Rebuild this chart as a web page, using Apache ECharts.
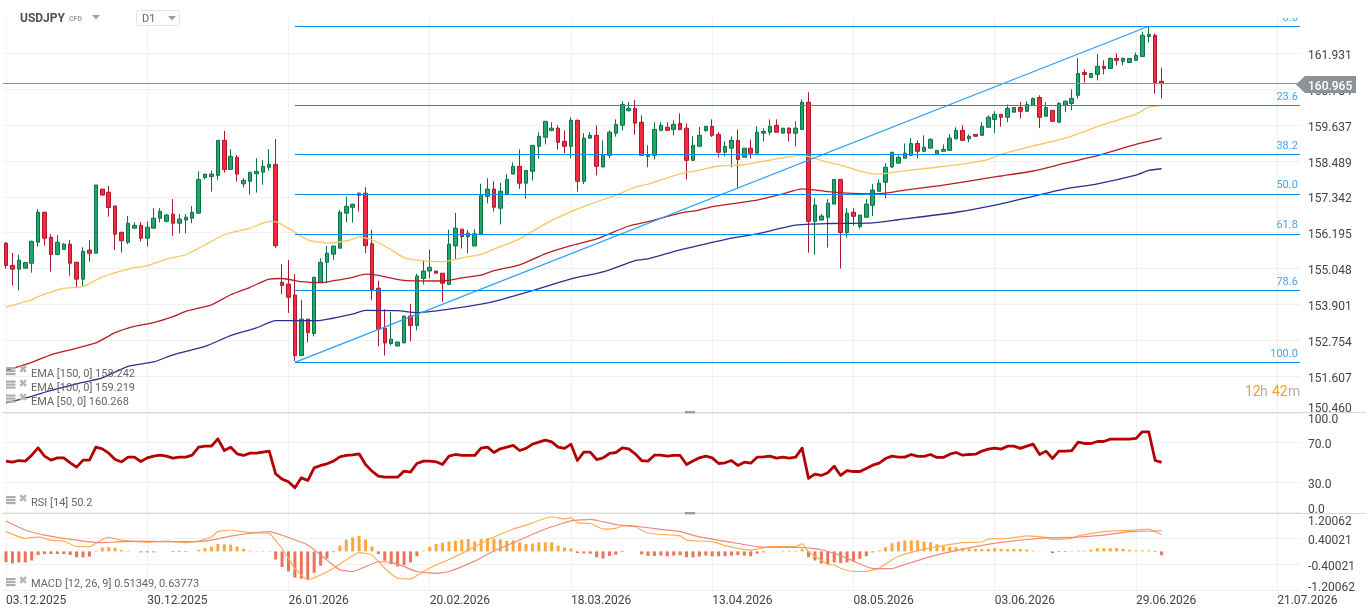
<!DOCTYPE html>
<html>
<head>
<meta charset="utf-8">
<style>html,body{margin:0;padding:0;background:#fff}#chart{width:1368px;height:616px}</style>
<script src="https://cdn.jsdelivr.net/npm/echarts@6/dist/echarts.min.js"></script>
</head>
<body>
<div id="chart"></div>
<script>
// USDJPY daily: candles with EMAs and Fibonacci retracement, RSI and MACD panes.
const tickDates = ['03.12.2025','30.12.2025','26.01.2026','20.02.2026','18.03.2026','13.04.2026','08.05.2026','03.06.2026','29.06.2026','21.07.2026'];
const priceTicks = [150.460,151.607,152.754,153.901,155.048,156.195,157.342,158.489,159.637,160.784,161.931];
const rsiTicks = [0,30,70,100];
const macdTicks = [-1.20062,-0.40021,0.40021,1.20062];
const lastPrice = 160.965;

// open, close, low, high
const candles = [
[155.86,155.15,155.04,155.90],[155.15,155.03,154.51,155.55],[155.03,155.32,154.35,155.49],[155.06,155.24,155.06,155.24],
[155.22,155.92,154.92,155.94],[155.89,156.85,155.75,156.95],[156.85,156.02,155.78,156.86],[156.05,155.50,154.95,156.15],
[155.50,155.89,155.47,156.12],[155.66,155.83,155.66,155.86],[155.83,155.22,154.82,155.96],[155.25,154.71,154.42,155.26],
[154.71,155.60,154.50,155.73],[155.64,155.54,155.27,155.96],[155.54,157.72,155.54,157.72],[157.59,157.40,157.38,157.59],
[157.49,157.00,156.71,157.69],[157.05,156.15,155.65,157.05],[156.21,155.94,155.56,156.22],[155.89,156.50,155.83,156.73],
[156.34,156.43,156.34,156.53],[156.43,156.02,155.92,156.53],[156.02,156.37,155.75,156.56],[156.34,156.66,156.34,156.98],
[156.66,156.88,156.53,156.98],[156.56,156.76,156.53,156.80],[156.79,156.50,156.10,157.27],[156.50,156.63,156.18,156.79],
[156.60,156.69,156.18,156.79],[156.66,156.85,156.50,157.05],[156.82,157.90,156.82,158.16],[157.96,158.07,157.91,158.07],
[157.99,158.07,157.51,158.19],[158.03,159.15,157.88,159.15],[159.15,158.22,158.12,159.45],[158.22,158.64,158.22,158.87],
[158.61,158.07,157.83,158.68],[157.76,157.87,157.64,157.94],[157.84,158.13,157.41,158.13],[158.08,158.16,157.48,158.58],
[158.13,158.32,157.73,158.52],[158.29,158.38,158.18,158.87],[158.38,155.78,155.70,159.19],[154.61,154.51,154.23,155.19],
[154.55,154.13,153.63,155.32],[154.20,152.27,152.09,154.87],[152.27,153.43,152.27,154.05],[153.43,153.00,152.69,153.43],
[152.97,154.77,152.88,154.77],[154.61,155.25,154.61,155.38],[155.25,155.54,154.58,155.77],[155.51,155.77,155.32,155.77],
[155.70,156.85,155.70,156.92],[156.82,157.04,156.53,157.35],[157.01,157.11,156.52,157.11],[157.46,157.39,156.87,157.46],
[157.46,155.78,155.54,157.65],[155.84,154.37,154.05,156.29],[154.42,153.11,152.56,154.66],[153.14,152.67,152.27,153.75],
[152.65,152.79,152.59,153.66],[152.57,152.70,152.57,152.70],[152.67,153.53,152.67,153.53],[153.53,153.23,152.72,153.92],
[153.23,154.81,153.07,154.88],[154.73,154.97,154.54,155.32],[154.97,155.09,154.73,155.65],[154.97,154.90,154.90,154.97],
[154.90,154.58,153.99,154.90],[154.54,155.83,154.54,156.29],[155.77,156.34,155.35,156.83],[156.31,156.07,155.69,156.31],
[156.07,156.18,155.54,156.29],[155.77,156.16,155.77,156.31],[156.15,157.39,156.15,157.76],[157.36,157.59,157.14,157.94],
[157.59,157.01,156.87,157.84],[156.98,157.52,156.46,157.79],[157.43,157.90,157.39,158.07],[158.07,158.32,158.07,158.45],
[158.32,157.78,157.60,158.86],[157.78,158.19,157.29,158.19],[158.16,158.99,157.86,158.99],[158.96,159.28,158.57,159.41],
[159.25,159.76,159.02,159.76],[159.47,159.54,159.44,159.73],[159.54,159.09,158.86,159.63],[159.12,158.96,158.74,159.47],
[158.96,159.79,158.57,159.89],[159.79,157.84,157.51,159.82],[157.84,159.22,157.75,159.38],[159.22,159.31,159.22,159.41],
[159.31,158.32,158.03,159.63],[158.30,158.70,158.29,159.15],[158.67,159.41,158.58,159.47],[159.38,159.66,159.27,159.82],
[159.63,160.30,159.47,160.40],[160.10,160.17,160.07,160.37],[160.17,159.70,159.33,160.44],[159.73,158.67,158.67,159.95],
[158.64,158.67,158.29,158.99],[158.67,159.50,158.54,159.73],[159.47,159.63,159.44,159.73],[159.57,159.47,159.47,159.73],
[159.50,159.66,159.31,159.79],[159.69,159.50,159.47,160.01],[159.54,158.51,157.90,159.69],[158.51,158.99,158.51,159.28],
[158.96,159.31,158.96,159.58],[159.46,159.60,159.43,159.60],[159.60,159.31,159.26,159.82],[159.34,158.77,158.61,159.41],
[158.77,158.96,158.64,159.12],[158.90,159.15,158.29,159.28],[159.15,158.54,157.62,159.50],[158.61,158.90,158.61,158.90],
[158.90,158.74,158.57,159.18],[158.74,159.41,158.74,159.60],[159.38,159.44,159.12,159.54],[159.41,159.60,159.31,159.82],
[159.63,159.41,159.41,159.82],[159.38,159.54,159.38,159.54],[159.54,159.38,159.12,159.57],[159.38,159.54,158.95,159.76],
[159.50,160.37,159.50,160.46],[160.37,156.56,155.56,160.69],[156.56,157.08,155.49,157.30],[156.60,156.73,156.60,156.79],
[156.69,157.14,155.72,157.27],[157.11,157.90,157.11,157.90],[157.90,156.20,155.05,157.90],[156.20,156.82,156.04,156.98],
[156.85,156.72,156.42,156.98],[156.39,156.76,156.33,156.76],[156.69,157.11,156.69,157.27],[157.07,157.56,156.73,157.75],
[157.52,157.78,157.52,157.90],[157.81,158.29,157.30,158.42],[158.30,158.77,158.26,158.77],[158.42,158.61,158.42,158.67],
[158.58,158.74,158.58,159.05],[158.67,159.05,158.67,159.22],[159.05,158.80,158.58,159.15],[158.80,158.93,158.80,159.31],
[158.90,159.18,158.90,159.22],[158.70,158.83,158.70,158.83],[158.80,158.86,158.80,159.02],[158.83,159.22,158.83,159.34],
[159.20,159.47,159.18,159.57],[159.47,159.15,159.12,159.63],[159.20,159.28,159.09,159.34],[159.34,159.28,159.28,159.34],
[159.31,159.60,159.31,159.73],[159.57,159.89,159.57,159.95],[159.82,159.98,159.38,160.08],[159.98,159.89,159.59,159.98],
[159.89,160.17,159.73,160.30],[160.05,160.20,160.05,160.20],[160.20,160.08,159.85,160.37],[160.08,160.30,160.08,160.40],
[160.27,160.49,160.27,160.52],[160.52,159.89,159.54,160.59],[159.92,160.20,159.92,160.37],[160.11,159.76,159.76,160.11],
[159.73,160.33,159.73,160.37],[160.27,160.40,160.05,160.43],[160.33,160.49,160.11,160.78],[160.59,161.29,160.49,161.78],
[161.32,161.26,161.00,161.42],[161.16,161.29,161.16,161.29],[161.26,161.52,161.07,161.91],[161.52,161.45,161.26,161.71],
[161.45,161.77,161.45,161.80],[161.77,161.71,161.55,161.94],[161.68,161.77,161.55,161.80],[161.64,161.77,161.64,161.77],
[161.71,161.87,161.71,161.96],[161.83,162.51,161.83,162.63],[162.47,162.54,162.28,162.79],[162.51,161.00,160.65,162.57],
[161.04,160.965,160.49,161.48]
];

// Moving averages, sampled at the bars listed in each index array
const ema50Bars = [0,4,5,9,12,15,19,22,25,28,31,34,38,41,42,45,47,50,53,54,55,57,60,62,64,68,71,74,76,80,84,88,91,95,98,100,105,108,111,115,119,124,125,128,130,134,136,139,145,150,153,155,160,165,170,176,178,180];
const ema50 = [153.82,154.05,154.15,154.42,154.47,154.78,155.03,155.14,155.35,155.49,155.81,156.13,156.34,156.56,156.55,156.21,155.97,155.86,155.93,155.99,156.06,155.97,155.65,155.40,155.32,155.27,155.39,155.50,155.67,156.00,156.48,156.87,157.11,157.40,157.65,157.75,158.08,158.20,158.33,158.37,158.52,158.68,158.63,158.45,158.36,158.11,158.07,158.15,158.29,158.42,158.54,158.70,158.97,159.22,159.59,159.99,160.21,160.268];
const ema100Bars = [0,4,7,10,14,17,20,23,26,28,32,35,38,41,43,46,49,51,54,56,58,62,68,71,74,76,80,84,88,92,97,100,105,108,110,117,121,124,128,131,135,137,140,146,154,155,160,165,170,176,180];
const ema100 = [151.79,152.05,152.29,152.45,152.67,153.00,153.20,153.32,153.51,153.68,153.89,154.21,154.45,154.71,154.73,154.63,154.60,154.66,154.77,154.87,154.83,154.67,154.65,154.75,154.84,154.98,155.17,155.52,155.78,156.00,156.41,156.55,156.82,156.92,157.03,157.24,157.44,157.60,157.51,157.46,157.44,157.46,157.56,157.72,157.98,158.01,158.17,158.42,158.66,159.02,159.219];
const ema150Bars = [0,4,7,11,15,19,23,26,31,35,39,42,46,49,54,56,61,64,69,74,77,82,88,93,98,100,105,108,113,117,123,128,135,139,148,155,160,165,170,176,178,180];
const ema150 = [150.75,150.96,151.15,151.36,151.55,151.92,152.06,152.29,152.56,152.90,153.15,153.38,153.38,153.39,153.59,153.71,153.70,153.64,153.75,153.91,154.05,154.34,154.72,154.94,155.30,155.36,155.65,155.79,156.02,156.16,156.44,156.49,156.51,156.61,156.85,157.12,157.36,157.60,157.76,158.04,158.19,158.242];

// Fibonacci retracement drawn between the swing low and the swing high
const fibLabels = ['0.0','23.6','38.2','50.0','61.8','78.6','100.0'];
const fibPrices = [162.80,160.26,158.69,157.43,156.16,154.35,152.05];
const swingLowBar = 45;
const swingHighBar = 178;
const fibEndBar = 202;

const rsi = [51.4,50.3,52,51.4,57.4,64.8,56.4,52.4,54.7,54.7,49.7,45.3,52.4,52.4,65.5,63.8,59.4,53,50.7,55.4,55.4,51,54.7,56.4,57.4,56.4,54.4,55.4,55.4,57.4,65.5,66.5,66.5,73.9,62.1,65.5,58.8,57.1,59.4,59.4,60.5,61.5,38.6,33.2,30.5,24.4,34.5,31.8,44.6,47,48.7,51.4,55.7,57.1,57.8,58.8,48,41.3,36.2,35.2,35.2,35.2,41.3,40.2,49,51.4,51.4,50.7,48,56.4,58.1,57.1,57.1,57.1,64.5,65.5,60.1,63.8,65.5,67.2,62.1,64.2,68.5,70.5,72.6,70.9,65.5,64.2,68.5,52,60.5,60.5,53,54.7,59.1,60.1,64.8,63.8,58.8,52,51.4,57.4,57.4,56.4,57.1,57.1,48,51.4,54.7,56.4,54.7,49,49.7,52,47,50.3,49.3,55.4,55.7,56.4,54.4,55.4,54.4,55.4,64.5,33.9,38.2,36.9,39.6,46.3,36.9,41.9,40.9,40.9,44,47.3,49.3,54,56.4,55.4,55.4,58.1,56.1,56.1,58.1,55.1,55.1,58.4,60.1,57.4,58.1,58.4,61.5,63.5,64.5,63.5,66.5,66.5,64.2,66.5,68.5,58.1,61.5,54,61.5,61.5,62.1,70.5,69.2,69.2,71.2,71.2,73.6,73.6,73.6,73.6,74.3,81,81,52,50.2];

const macdBars = [0,3,5,7,9,11,13,15,16,18,20,22,25,28,30,32,33,35,38,41,43,45,47,49,51,53,55,57,59,61,63,65,67,69,72,75,79,81,85,87,88,89,91,93,95,96,98,100,105,106,110,112,116,119,123,124,125,128,129,130,132,134,136,138,139,143,146,149,152,153,156,159,162,163,166,167,171,175,178,180];
const macdLine = [0.61,0.40,0.45,0.35,0.32,0.15,0.15,0.37,0.43,0.35,0.31,0.28,0.32,0.27,0.32,0.45,0.61,0.66,0.58,0.55,0.09,-0.52,-0.88,-0.73,-0.52,-0.26,-0.04,-0.11,-0.52,-0.83,-0.85,-0.62,-0.42,-0.25,0.04,0.35,0.69,0.81,1.07,1.00,1.04,0.89,0.86,0.69,0.71,0.79,0.76,0.56,0.48,0.35,0.30,0.18,0.04,0.15,0.15,0.23,-0.01,-0.40,-0.42,-0.52,-0.62,-0.62,-0.52,-0.26,-0.15,0.07,0.18,0.27,0.29,0.38,0.40,0.48,0.43,0.37,0.40,0.48,0.61,0.65,0.69,0.51349];
const signalBars = [0,3,6,9,12,15,18,21,25,29,32,35,38,41,43,47,50,52,54,56,58,60,62,64,67,69,73,76,80,84,88,91,95,98,102,105,108,113,117,121,124,127,130,132,135,138,139,144,150,155,162,166,171,175,180];
const signalLine = [0.94,0.66,0.50,0.40,0.32,0.27,0.30,0.32,0.30,0.30,0.35,0.47,0.56,0.61,0.50,0.20,-0.27,-0.57,-0.62,-0.47,-0.32,-0.34,-0.47,-0.62,-0.68,-0.62,-0.30,0.01,0.35,0.69,0.94,0.99,0.83,0.78,0.68,0.61,0.45,0.28,0.15,0.12,0.12,0.05,-0.13,-0.30,-0.53,-0.53,-0.47,-0.16,0.11,0.28,0.42,0.43,0.50,0.61,0.63773];
const macdHist = [-0.33,-0.37,-0.34,-0.34,-0.28,-0.11,-0.08,-0.08,-0.08,-0.08,-0.11,-0.18,-0.18,-0.16,0.02,0.12,0.13,0.11,0.04,0.02,0,-0.03,-0.03,-0.03,0,0,-0.02,-0.02,-0.02,0,0.04,0.10,0.14,0.23,0.22,0.21,0.15,0.08,0.02,0.01,-0.01,-0.01,-0.25,-0.48,-0.62,-0.81,-0.84,-0.86,-0.66,-0.44,-0.22,-0.02,0.18,0.36,0.43,0.48,0.37,0.15,-0.08,-0.29,-0.39,-0.46,-0.43,-0.34,-0.15,0.02,0.14,0.23,0.27,0.31,0.33,0.36,0.38,0.31,0.38,0.41,0.39,0.37,0.33,0.34,0.28,0.23,0.24,0.28,0.28,0.28,0.18,0.12,0.09,-0.05,-0.06,-0.07,-0.18,-0.22,-0.14,-0.10,-0.02,0,0,-0.09,-0.14,-0.14,-0.13,-0.15,-0.13,-0.12,-0.18,-0.18,-0.16,-0.13,-0.15,-0.15,-0.15,-0.13,-0.11,-0.13,-0.15,-0.07,-0.03,0,0.01,0.02,0.02,0.02,0.08,-0.17,-0.28,-0.37,-0.40,-0.34,-0.36,-0.34,-0.31,-0.23,-0.15,-0.03,0.03,0.13,0.25,0.30,0.34,0.34,0.34,0.30,0.28,0.22,0.16,0.14,0.13,0.10,0.09,0.08,0.07,0.08,0.10,0.08,0.07,0.07,0.07,0.06,0.02,0.01,0,-0.05,-0.02,-0.02,-0.01,0.02,0.02,0.05,0.10,0.10,0.10,0.10,0.08,0.05,0.03,0.03,0.03,-0.02,-0.12];

const emaLegend = ['EMA [150, 0] 158.242','EMA [100, 0] 159.219','EMA [50, 0] 160.268'];
const rsiLegend = 'RSI [14] 50.2';
const macdLegend = 'MACD [12, 26, 9] 0.51349, 0.63773';

const FONT = 'Roboto';
const GRID_LINE = '#f1f1f1';
const AXIS_TEXT = '#444';
const UP = '#21a66c', UP_EDGE = '#0f7146', DOWN = '#f8283f', DOWN_EDGE = '#a81a2c';
const FIB_BLUE = '#0a8df0', FIB_TEXT = '#45a6f3';
const LEFT = 2.8, BAR_STEP = 6.42, BAR_SLOTS = 203;

const categories = Array.from({length: BAR_SLOTS}, (_, i) => i % 22 === 0 ? tickDates[i / 22] : 'bar' + i);
const pairUp = (bars, values) => bars.map((b, k) => [categories[b], values[k]]);

const grids = [
  {left: LEFT, top: 0, width: BAR_STEP * BAR_SLOTS, height: 412},
  {left: LEFT, top: 413, width: BAR_STEP * BAR_SLOTS, height: 99},
  {left: LEFT, top: 512.5, width: BAR_STEP * BAR_SLOTS, height: 77.8}
];
const xAxes = grids.map((g, idx) => ({
  type: 'category', gridIndex: idx, data: categories, boundaryGap: true,
  axisLine: {show: false}, axisTick: {show: false},
  splitLine: {show: true, interval: 21, alignWithLabel: true, lineStyle: {color: GRID_LINE, width: 1}},
  axisLabel: {show: idx === 2, interval: 21, align: 'left', margin: 5, color: AXIS_TEXT, fontFamily: FONT, fontSize: 12, hideOverlap: false}
}));
// Pane-edge tick labels sit inside the pane, so they are placed apart from the axis labels.
// A short line box on top-aligned text puts each label just under its grid line.
const yAxisBase = (idx, min, max, ticks, labelTicks, digits) => ({
  type: 'value', gridIndex: idx, position: 'right', min, max, scale: true,
  axisLine: {show: false},
  axisTick: {show: false, customValues: ticks},
  splitLine: {show: true, lineStyle: {color: GRID_LINE, width: 1}},
  axisLabel: {
    customValues: labelTicks, margin: 2, color: AXIS_TEXT, fontFamily: FONT, fontSize: 12, align: 'left',
    verticalAlign: 'top', lineHeight: 5,
    formatter: v => v.toFixed(digits)
  }
});
const yAxes = [
  yAxisBase(0, 150.46, 163.64, priceTicks, priceTicks.slice(1), 3),
  yAxisBase(1, 0, 100, rsiTicks, rsiTicks.slice(1, -1), 1),
  yAxisBase(2, -1.20062, 1.20062, macdTicks, macdTicks.slice(1, -1), 5)
];

const plainLine = (name, data, color, width, xi, yi, z, smooth) => ({
  name, type: 'line', data, xAxisIndex: xi, yAxisIndex: yi, showSymbol: false, symbol: 'none',
  connectNulls: true, z, silent: true, smooth: smooth || false,
  lineStyle: {color, width, join: 'round'}
});

const fibMarks = fibPrices.map((price, k) => [
  {coord: [categories[swingLowBar], price],
   lineStyle: {color: FIB_BLUE, width: 1, type: 'solid'},
   label: {show: true, position: 'insideEndTop', formatter: fibLabels[k], color: FIB_TEXT, fontFamily: FONT, fontSize: 11, distance: [5, 3]}},
  {coord: [categories[fibEndBar], price]}
]);
const trendMark = [
  {coord: [categories[swingLowBar], fibPrices[6]], lineStyle: {color: '#2e9ff6', width: 1.3, type: 'solid'}, label: {show: false}},
  {coord: [categories[swingHighBar], fibPrices[0]]}
];

const series = [
  {
    name: 'USDJPY', type: 'candlestick', data: candles, xAxisIndex: 0, yAxisIndex: 0, barWidth: 4, clip: false, z: 2,
    itemStyle: {color: UP, color0: DOWN, borderColor: UP_EDGE, borderColor0: DOWN_EDGE, borderWidth: 1},
    markLine: {silent: true, symbol: ['none', 'none'], animation: false, z: 6, data: [trendMark, ...fibMarks,
      {yAxis: lastPrice, lineStyle: {color: '#899196', width: 1, type: 'solid'}, label: {show: false}}]}
  },
  plainLine('EMA 50', pairUp(ema50Bars, ema50), '#fbc65c', 1.3, 0, 0, 4, 0.2),
  plainLine('EMA 100', pairUp(ema100Bars, ema100), '#ba1c26', 1.3, 0, 0, 4, 0.2),
  plainLine('EMA 150', pairUp(ema150Bars, ema150), '#2d2f8c', 1.3, 0, 0, 4, 0.2),
  plainLine('RSI', rsi.map((v, i) => [categories[i], v]), '#b40000', 2.8, 1, 1, 4),
  {
    name: 'Histogram', type: 'bar', xAxisIndex: 2, yAxisIndex: 2, barWidth: 3, z: 3, silent: true,
    data: macdHist.map(v => ({value: v, itemStyle: {color: v >= 0 ? '#ffa63f' : '#ec7259'}}))
  },
  plainLine('MACD', pairUp(macdBars, macdLine), '#ffae58', 1.2, 2, 2, 4, 0.15),
  plainLine('Signal', pairUp(signalBars, signalLine), '#f0897a', 1.2, 2, 2, 4, 0.15)
];

// Small stacked-bars-and-cross icon shown in front of each indicator caption
function captionIcon(x, y) {
  const parts = [];
  for (let k = 0; k < 3; k++) {
    parts.push({type: 'rect', shape: {x, y: y + k * 3, width: 9.5, height: 2.2}, style: {fill: '#adadad'}, z: 20});
  }
  parts.push({type: 'text', x: x + 12.5, y: y - 2, style: {text: '\u2716', font: '11px "DejaVu Sans"', fill: '#b5b5b5'}, z: 20});
  return parts;
}
const caption = (text, y) => ({type: 'text', x: 31, y, style: {text, font: `11px ${FONT}`, fill: '#666', textVerticalAlign: 'middle'}, z: 20});
const triangle = (x, y, w, h, fill) => ({type: 'polygon', shape: {points: [[x, y], [x + w, y], [x + w / 2, y + h]]}, style: {fill}, z: 20});
const panelHandle = y => ({type: 'rect', shape: {x: 685, y: y - 1, width: 10, height: 2.4}, style: {fill: '#9aa0a4'}, z: 21});
const separator = y => ({type: 'rect', shape: {x: 2, y, width: 1364, height: 1}, style: {fill: '#d9d9d9'}, z: 20});
const edgeLabel = (text, y) => ({type: 'text', x: 1308, y, style: {text, font: `12px ${FONT}`, fill: AXIS_TEXT, textVerticalAlign: 'middle'}, z: 20});
const clockPart = (text, x, fill) => ({type: 'text', x, y: 392.5, style: {text, font: `14px ${FONT}`, fill, textVerticalAlign: 'middle'}, z: 20});

const graphics = [
  {type: 'rect', shape: {x: 0, y: 0, width: 1307, height: 18}, style: {fill: '#fff'}, z: 15},
  {type: 'rect', shape: {x: 1300, y: 0, width: 7, height: 591}, style: {fill: '#fff'}, z: 15},
  {type: 'text', x: 20, y: 19, style: {text: 'USDJPY', font: `bold 12px ${FONT}`, fill: '#4b5358', textVerticalAlign: 'middle'}, z: 20},
  {type: 'text', x: 69, y: 19.5, style: {text: 'CFD', font: `bold 7px ${FONT}`, fill: '#9a9ea1', textVerticalAlign: 'middle'}, z: 20},
  triangle(92, 15, 8, 4.5, '#9a9ea1'),
  {type: 'rect', shape: {x: 136.5, y: 10.5, width: 43, height: 15, r: 2}, style: {fill: '#fff', stroke: '#e2e4e5', lineWidth: 1}, z: 19},
  {type: 'text', x: 142, y: 19, style: {text: 'D1', font: `11px ${FONT}`, fill: '#666', textVerticalAlign: 'middle'}, z: 20},
  triangle(168, 16, 8, 4.5, '#9a9ea1'),
  separator(412), separator(513),
  panelHandle(412), panelHandle(513),
  {type: 'polygon', shape: {points: [[1296, 84.5], [1305, 76], [1356, 76], [1356, 93], [1305, 93]]}, style: {fill: '#8a9397'}, z: 20},
  {type: 'text', x: 1308, y: 86.5, style: {text: lastPrice.toFixed(3), font: `500 12px ${FONT}`, fill: '#fff', textVerticalAlign: 'middle'}, z: 21},
  edgeLabel(priceTicks[0].toFixed(3), 409),
  edgeLabel(rsiTicks[3].toFixed(1), 420),
  edgeLabel(rsiTicks[0].toFixed(1), 510),
  edgeLabel(macdTicks[3].toFixed(5), 521.5),
  edgeLabel(macdTicks[0].toFixed(5), 587.5),
  clockPart('12', 1245, '#ff9d1e'), clockPart('h', 1260, '#b0b0b0'),
  clockPart('42', 1272, '#ff9d1e'), clockPart('m', 1288, '#b0b0b0'),
  ...captionIcon(6, 367), caption(emaLegend[0], 374.5),
  ...captionIcon(6, 380.5), caption(emaLegend[1], 388.5),
  ...captionIcon(6, 394.5), caption(emaLegend[2], 402.5),
  ...captionIcon(6, 496), caption(rsiLegend, 503.5),
  ...captionIcon(6, 578), caption(macdLegend, 584.5)
];

const chart = echarts.init(document.getElementById('chart'), null, {renderer: 'canvas'});
chart.setOption({
  animation: false, backgroundColor: '#fff', tooltip: {show: false}, legend: {show: false},
  grid: grids, xAxis: xAxes, yAxis: yAxes, series, graphic: graphics
});
</script>
</body>
</html>
